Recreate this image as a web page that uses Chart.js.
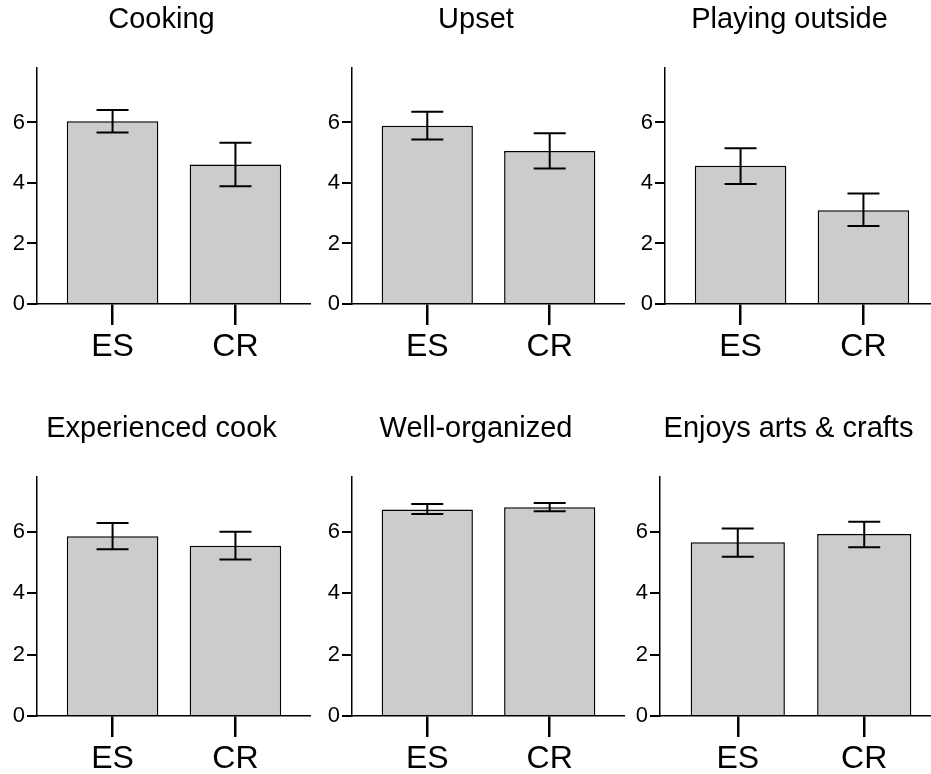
<!DOCTYPE html>
<html>
<head>
<meta charset="utf-8">
<script src="https://cdn.jsdelivr.net/npm/chart.js@4/dist/chart.umd.min.js"></script>
<style>
  body { margin: 0; background: #fff; overflow: hidden; }
  #wrap { position: relative; width: 931px; height: 774px; }
  canvas { position: absolute; }
</style>
</head>
<body>
<div id="wrap"></div>
<script>
// values
const titles = ['Cooking', 'Upset', 'Playing outside', 'Experienced cook', 'Well-organized', 'Enjoys arts & crafts'];
const groups = ['ES', 'CR'];
const esMean  = [6.04, 5.89, 4.57, 5.87, 6.74, 5.67];
const crMean  = [4.61, 5.06, 3.10, 5.56, 6.81, 5.94];
const esUpper = [6.41, 6.35, 5.15, 6.30, 6.92, 6.12];
const esLower = [5.67, 5.44, 3.97, 5.44, 6.59, 5.20];
const crUpper = [5.33, 5.64, 3.65, 6.01, 6.95, 6.34];
const crLower = [3.89, 4.48, 2.58, 5.11, 6.68, 5.51];
const yTicksStep = 2;
const yMax = 7.8;

// where each panel sits on the page
const panels = [
  { left: 0,   top: 0,   width: 311, padL: 12, yW: 25, xH: 61 },
  { left: 315, top: 0,   width: 310, padL: 12, yW: 25, xH: 61 },
  { left: 628, top: 0,   width: 311, padL: 12, yW: 25, xH: 61 },
  { left: 0,   top: 409, width: 311, padL: 12, yW: 25, xH: 58 },
  { left: 315, top: 409, width: 310, padL: 12, yW: 25, xH: 58 },
  { left: 623, top: 409, width: 319, padL: 12, yW: 25, xH: 58 }
];
const panelH = 365;
const fontFam = "'Liberation Sans', Arial, sans-serif";

// draws the error bars from the upper/lower arrays
const errorBars = {
  id: 'errorBars',
  afterDatasetsDraw(chart, args, opts) {
    const ctx = chart.ctx;
    const meta = chart.getDatasetMeta(0);
    const y = chart.scales.y;
    ctx.save();
    ctx.strokeStyle = '#000';
    ctx.lineWidth = 2;
    meta.data.forEach(function(bar, i) {
      const hi = y.getPixelForValue(opts.upper[i]);
      const lo = y.getPixelForValue(opts.lower[i]);
      ctx.beginPath();
      ctx.moveTo(bar.x, hi); ctx.lineTo(bar.x, lo);
      ctx.moveTo(bar.x - 16, hi); ctx.lineTo(bar.x + 16, hi);
      ctx.moveTo(bar.x - 16, lo); ctx.lineTo(bar.x + 16, lo);
      ctx.stroke();
    });
    ctx.restore();
  }
};

const wrap = document.getElementById('wrap');

panels.forEach(function(p, k) {
  const canvas = document.createElement('canvas');
  canvas.width = p.width;
  canvas.height = panelH;
  canvas.style.left = p.left + 'px';
  canvas.style.top = p.top + 'px';
  wrap.appendChild(canvas);

  const means = [esMean[k], crMean[k]];
  new Chart(canvas.getContext('2d'), {
    type: 'bar',
    data: {
      datasets: [{
        data: groups.map((g, i) => ({ x: i + 1, y: means[i] })),
        backgroundColor: '#cccccc',
        borderColor: '#000',
        borderWidth: 1.5,
        barPercentage: 0.745,
        categoryPercentage: 1
      }]
    },
    options: {
      responsive: false,
      animation: false,
      layout: { padding: { left: p.padL, right: 0, top: 0, bottom: 0 } },
      plugins: {
        legend: { display: false },
        tooltip: { enabled: false },
        title: {
          display: true,
          text: titles[k],
          color: '#000',
          font: { family: fontFam, size: 29, weight: 'normal' },
          padding: { top: 3, bottom: 30.2 }
        },
        errorBars: { upper: [esUpper[k], crUpper[k]], lower: [esLower[k], crLower[k]] }
      },
      scales: {
        x: {
          type: 'linear',
          offset: false,
          min: 0.385,
          max: 2.615,
          afterBuildTicks: function(scale) {
            scale.ticks = groups.map((g, i) => ({ value: i + 1 }));
          },
          afterFit: function(scale) { scale.height = p.xH; },
          ticks: {
            callback: (v, i) => groups[i],
            color: '#000',
            font: { family: fontFam, size: 32 },
            padding: 3,
            maxRotation: 0
          },
          grid: { offset: false, drawOnChartArea: false, color: '#000', lineWidth: 2.5, tickLength: 21 },
          border: { color: '#000', width: 1.5 }
        },
        y: {
          min: 0,
          max: yMax,
          afterFit: function(scale) { scale.width = p.yW; },
          ticks: {
            stepSize: yTicksStep,
            includeBounds: false,
            color: '#000',
            font: { family: fontFam, size: 22 },
            padding: 2
          },
          grid: { drawOnChartArea: false, color: '#000', lineWidth: 2, tickLength: 10 },
          border: { color: '#000', width: 1.5 }
        }
      }
    },
    plugins: [errorBars]
  });
});
</script>
</body>
</html>
